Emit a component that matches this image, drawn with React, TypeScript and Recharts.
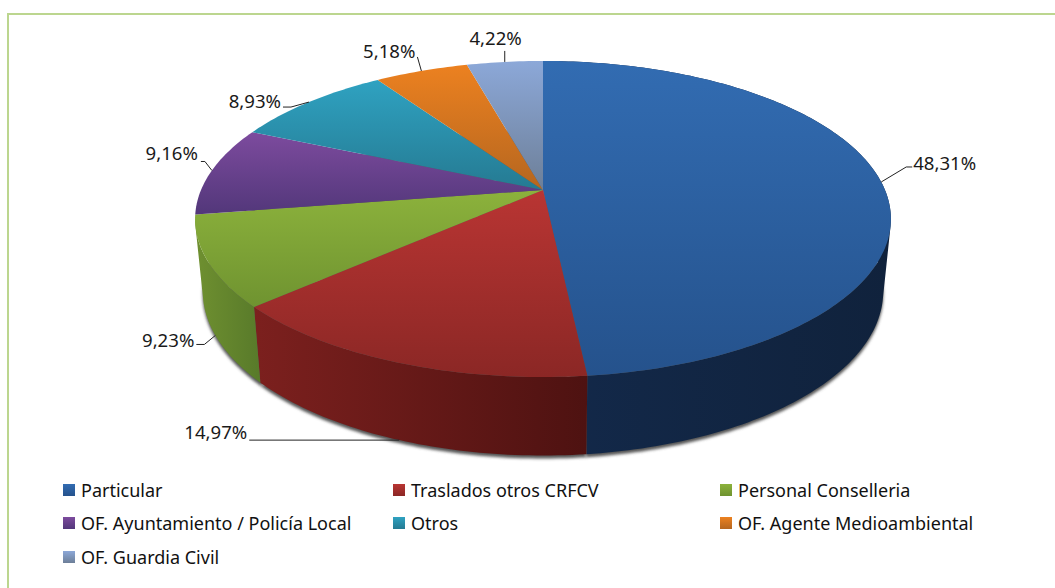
import { PieChart, Pie, Legend } from 'recharts'

const names = [
  'Particular',
  'Traslados otros CRFCV',
  'Personal Conselleria',
  'OF. Ayuntamiento / Policía Local',
  'Otros',
  'OF. Agente Medioambiental',
  'OF. Guardia Civil',
]
const shares = [48.31, 14.97, 9.23, 9.16, 8.93, 5.18, 4.22]

const topColors = [
  ['#326cb2', '#25528c'],
  ['#b93533', '#8b2725'],
  ['#8cb23c', '#6f9330'],
  ['#7d4b9e', '#52377a'],
  ['#2fa2c1', '#257a92'],
  ['#ec8120', '#b5661f'],
  ['#8ca8d8', '#6d7f98'],
]
const sideColors = [
  ['#13294a', '#10223c'],
  ['#7c201e', '#4e1211'],
  ['#6f9030', '#587a2a'],
]

// leader line layout, relative to the rim point of each slice
const leaders = [
  { base: false, elbow: [25, -15], end: [31, -15], text: [32, -17], anchor: 'start' },
  { base: true, elbow: [-150, 0], end: [-150, 0], text: [-152, -6], anchor: 'end' },
  { base: true, elbow: [-11, 9], end: [-19, 9], text: [-21, 7], anchor: 'end' },
  { base: false, elbow: [-7, -9], end: [-11, -9], text: [-14, -15], anchor: 'end' },
  { base: false, elbow: [-18, 5], end: [-26, 5], text: [-28, 1], anchor: 'end' },
  { base: false, elbow: [-4, -14], end: [-4, -14], text: [-6, -18], anchor: 'end' },
  { base: false, elbow: [0, -11], end: [0, -11], text: [17, -22], anchor: 'end' },
]

const FONT = '"Noto Sans", sans-serif'
const CX = 543
const CY = 190
const RADIUS = 342

const chartData = names.map((name, i) => ({ name, value: shares[i] }))

// perspective of the tilted disc: the centre sits above the middle of the ellipse
const TILT = 0.1835
const SQUASH = 0.4465

function rimPoint(cx: number, cy: number, r: number, angle: number, base = false) {
  const t = (angle * Math.PI) / 180
  const u = Math.cos(t)
  const v = -Math.sin(t)
  const w = 1 - TILT * v
  let x = (r * u) / w
  let y = (r * SQUASH * v) / w
  if (base) {
    x = x * 0.978
    y = y * 1.04 + 71
  }
  return [cx + x, cy + y]
}

function arcPoints(p: any, base: boolean) {
  const pts = []
  const steps = Math.max(2, Math.ceil(Math.abs(p.endAngle - p.startAngle)))
  for (let i = 0; i <= steps; i++) {
    const a = p.startAngle + ((p.endAngle - p.startAngle) * i) / steps
    pts.push(rimPoint(p.cx, p.cy, p.outerRadius, a, base))
  }
  return pts
}

const toPath = (pts: number[][]) =>
  pts.map((q, i) => `${i ? 'L' : 'M'}${q[0].toFixed(2)} ${q[1].toFixed(2)}`).join(' ') + ' Z'

// signed area, so every strip of the wall winds the same way and they all fill
function clockwise(quad: number[][]) {
  let area = 0
  quad.forEach((q, i) => {
    const n = quad[(i + 1) % quad.length]
    area += q[0] * n[1] - n[0] * q[1]
  })
  return area < 0 ? [...quad].reverse() : quad
}

function TopFace(props: any, index: number) {
  const pts = [[props.cx, props.cy], ...arcPoints(props, false)]
  return <path d={toPath(pts)} fill={`url(#top${index})`} />
}

function SideWall(props: any, index: number) {
  // back slices have no visible wall
  if (index >= sideColors.length) return <g />
  const rim = arcPoints(props, false)
  const low = arcPoints(props, true)
  const strips = rim.slice(1).map((q, i) => toPath(clockwise([rim[i], q, low[i + 1], low[i]])))
  return <path d={strips.join(' ')} fill={`url(#side${index})`} />
}

function BaseShadow(props: any) {
  const pts = [[props.cx, props.cy + 71], ...arcPoints(props, true)]
  return <path d={toPath(pts)} fill="#555" filter="url(#baseBlur)" />
}

function sliceLabel(props: any) {
  const { cx, cy, outerRadius, midAngle, index } = props
  const l = leaders[index]
  const [x, y] = rimPoint(cx, cy, outerRadius, midAngle, l.base)
  const line = [[x, y], [x + l.elbow[0], y + l.elbow[1]], [x + l.end[0], y + l.end[1]]]
  return (
    <g key={index}>
      <polyline points={line.map((q) => q.join(',')).join(' ')} fill="none" stroke="#222" strokeWidth={1} />
      <text
        x={x + l.text[0]}
        y={y + l.text[1]}
        textAnchor={l.anchor as any}
        dominantBaseline="middle"
        fontFamily={FONT}
        fontSize={18.6}
        fill="#1a1a1a"
      >
        {shares[index].toFixed(2).replace('.', ',') + '%'}
      </text>
    </g>
  )
}

function LegendGrid() {
  return (
    <div
      style={{
        display: 'grid',
        gridTemplateColumns: '330px 327px 300px',
        gridAutoRows: '33.5px',
        fontFamily: FONT,
        fontSize: 18,
        color: '#111',
        textAlign: 'left',
      }}
    >
      {names.map((name, i) => (
        <div key={name} style={{ display: 'flex', alignItems: 'center', whiteSpace: 'nowrap' }}>
          <span
            style={{
              width: 12,
              height: 12,
              marginRight: 6,
              background: `linear-gradient(${topColors[i][0]}, ${topColors[i][1]})`,
            }}
          />
          {name}
        </div>
      ))}
    </div>
  )
}

export default function App() {
  return (
    <div style={{ position: 'absolute', left: 0, top: 0, width: 1055, height: 588, background: '#fff', overflow: 'hidden' }}>
      <div
        style={{
          position: 'absolute',
          left: 7,
          top: 13,
          right: 0,
          bottom: 0,
          borderLeft: '2px solid #bcd68f',
          borderTop: '2px solid #bcd68f',
        }}
      />
      <PieChart width={1055} height={588} margin={{ top: 0, right: 0, bottom: 0, left: 0 }}>
        <defs>
          <filter id="baseBlur" x="-10%" y="-10%" width="120%" height="130%">
            <feOffset dy="3" />
            <feGaussianBlur stdDeviation="1.6" />
          </filter>
          {topColors.map((c, i) => (
            <linearGradient key={i} id={`top${i}`} x1="0" y1="0" x2="0" y2="1">
              <stop offset="0%" stopColor={c[0]} />
              <stop offset="100%" stopColor={c[1]} />
            </linearGradient>
          ))}
          {sideColors.map((c, i) => (
            <linearGradient key={i} id={`side${i}`} x1="0" y1="0" x2="1" y2="0">
              <stop offset="0%" stopColor={c[0]} />
              <stop offset="100%" stopColor={c[1]} />
            </linearGradient>
          ))}
        </defs>
        <Pie
          data={chartData}
          dataKey="value"
          nameKey="name"
          cx={CX}
          cy={CY}
          outerRadius={RADIUS}
          startAngle={90}
          endAngle={-270}
          stroke="none"
          legendType="none"
          shape={BaseShadow}
          isAnimationActive={false}
        />
        <Pie
          data={chartData}
          dataKey="value"
          nameKey="name"
          cx={CX}
          cy={CY}
          outerRadius={RADIUS}
          startAngle={90}
          endAngle={-270}
          stroke="none"
          legendType="none"
          shape={SideWall}
          isAnimationActive={false}
        />
        <Pie
          data={chartData}
          dataKey="value"
          nameKey="name"
          cx={CX}
          cy={CY}
          outerRadius={RADIUS}
          startAngle={90}
          endAngle={-270}
          stroke="none"
          shape={TopFace}
          label={sliceLabel}
          labelLine={false}
          isAnimationActive={false}
        />
        <Legend
          content={LegendGrid}
          layout="horizontal"
          align="center"
          verticalAlign="middle"
          wrapperStyle={{ left: 63, top: 473, width: 980 }}
        />
      </PieChart>
    </div>
  )
}
